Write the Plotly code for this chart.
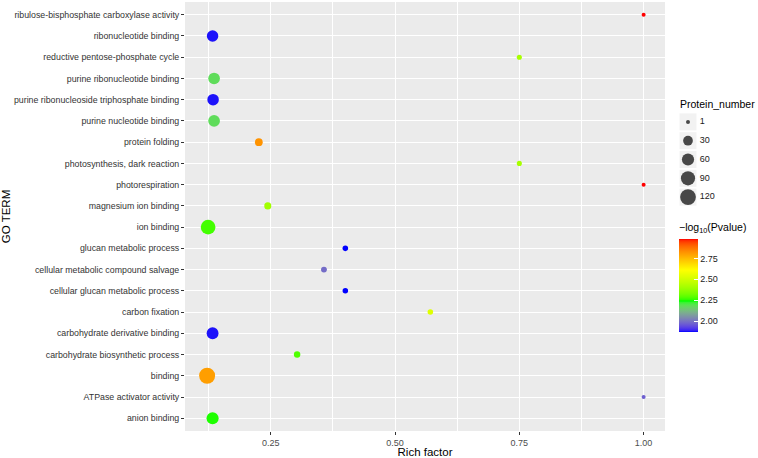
import numpy as np
import plotly.graph_objects as go

# ---------------- data (bottom -> top, ggplot alphabetical order) ----------------
terms = [
    "anion binding",
    "ATPase activator activity",
    "binding",
    "carbohydrate biosynthetic process",
    "carbohydrate derivative binding",
    "carbon fixation",
    "cellular glucan metabolic process",
    "cellular metabolic compound salvage",
    "glucan metabolic process",
    "ion binding",
    "magnesium ion binding",
    "photorespiration",
    "photosynthesis, dark reaction",
    "protein folding",
    "purine nucleotide binding",
    "purine ribonucleoside triphosphate binding",
    "purine ribonucleotide binding",
    "reductive pentose-phosphate cycle",
    "ribonucleotide binding",
    "ribulose-bisphosphate carboxylase activity",
]
rich_factor = [0.133, 1.0, 0.122, 0.303, 0.133, 0.571, 0.40, 0.357, 0.40, 0.124,
               0.244, 1.0, 0.75, 0.226, 0.136, 0.134, 0.136, 0.75, 0.133, 1.0]
protein_number = [58, 2, 125, 7, 55, 4, 4, 5, 4, 100,
                  10, 2, 3, 14, 53, 50, 52, 3, 50, 2]
neg_log10_p = [2.25, 1.97, 2.80, 2.28, 1.88, 2.53, 1.87, 1.99, 1.87, 2.27,
               2.40, 2.98, 2.41, 2.82, 2.18, 1.88, 2.18, 2.41, 1.88, 2.98]

size_breaks = [1, 30, 60, 90, 120]
x_ticks = [0.25, 0.50, 0.75, 1.00]
color_ticks = [2.00, 2.25, 2.50, 2.75]
gradient_colours = ["#0000FF", "#00FF00", "#FFFF00", "#FF0000"]

# ---------------- helpers: Lab-space colour ramp (like ggplot gradientn) ----------------
def _lin(c):
    c = c / 255.0
    return np.where(c <= 0.04045, c / 12.92, ((c + 0.055) / 1.055) ** 2.4)

def _delin(c):
    c = np.where(c <= 0.0031308, 12.92 * c, 1.055 * np.power(np.clip(c, 0, None), 1 / 2.4) - 0.055)
    return np.clip(np.round(c * 255), 0, 255).astype(int)

M = np.array([[0.4124564, 0.3575761, 0.1804375],
              [0.2126729, 0.7151522, 0.0721750],
              [0.0193339, 0.1191920, 0.9503041]])
Minv = np.linalg.inv(M)
WHITE = np.array([0.95047, 1.0, 1.08883])

def hex2lab(h):
    rgb = np.array([int(h[i:i + 2], 16) for i in (1, 3, 5)], dtype=float)
    xyz = M @ _lin(rgb) / WHITE
    f = np.where(xyz > 216 / 24389, np.cbrt(xyz), (24389 / 27 * xyz + 16) / 116)
    return np.array([116 * f[1] - 16, 500 * (f[0] - f[1]), 200 * (f[1] - f[2])])

def lab2rgb(lab):
    L, a, b = lab
    fy = (L + 16) / 116
    fx = fy + a / 500
    fz = fy - b / 200
    f = np.array([fx, fy, fz])
    xyz = np.where(f ** 3 > 216 / 24389, f ** 3, (116 * f - 16) / (24389 / 27)) * WHITE
    return _delin(Minv @ xyz)

labs = [hex2lab(c) for c in gradient_colours]
stops = []
n = 60
for i in range(n + 1):
    t = i / n
    seg = min(int(t * (len(labs) - 1)), len(labs) - 2)
    u = t * (len(labs) - 1) - seg
    lab = labs[seg] * (1 - u) + labs[seg + 1] * u
    r, g, b = lab2rgb(lab)
    stops.append([t, f"rgb({r},{g},{b})"])

vmin, vmax = min(protein_number), max(protein_number)

def size_scale(v):
    t = np.clip((np.asarray(v, dtype=float) - vmin) / (vmax - vmin), 0, 1)
    return 4.0 + 12.0 * np.sqrt(t)

# ---------------- layout geometry (pixels) ----------------
W, H = 758, 458
ML, MR, MT, MB = 185, 0, 2, 27
PW, PH = W - ML - MR, H - MT - MB
def px_x(p):  # pixel -> paper x
    return (p - ML) / PW
def px_y(p):  # pixel -> paper y
    return (H - MB - p) / PH

# ---------------- figure ----------------
fig = go.Figure()

fig.add_trace(go.Scatter(
    x=rich_factor, y=terms, mode="markers", showlegend=False, hoverinfo="x+y",
    marker=dict(
        size=size_scale(protein_number), sizemode="diameter",
        color=neg_log10_p, colorscale=stops, line=dict(width=0), opacity=1,
        colorbar=dict(
            title=dict(text="\u2212log<sub>10</sub>(Pvalue)", side="top",
                       font=dict(size=10.5, color="#000000")),
            tickvals=color_ticks, ticktext=[f"{v:.2f}" for v in color_ticks],
            ticks="inside", ticklen=4, tickcolor="white", tickwidth=1,
            tickfont=dict(size=9, color="#1A1A1A"),
            thickness=19, thicknessmode="pixels",
            len=112, lenmode="pixels",
            x=px_x(679), xanchor="left", y=px_y(276), yanchor="middle",
            xpad=0, ypad=0, outlinewidth=0,
        ),
    ),
))

# size legend drawn as a small subplot
size_labels = [str(s) for s in size_breaks]
fig.add_trace(go.Scatter(
    x=[0] * len(size_breaks), y=size_labels, xaxis="x2", yaxis="y2",
    mode="markers+text", text=size_labels, textposition="middle right",
    textfont=dict(size=9, color="#1A1A1A"), cliponaxis=False,
    marker=dict(symbol="square", size=17, color="#F2F2F2", line=dict(width=0)),
    showlegend=False, hoverinfo="skip",
))
fig.add_trace(go.Scatter(
    x=[0] * len(size_breaks), y=size_labels, xaxis="x2", yaxis="y2",
    mode="markers", cliponaxis=False,
    marker=dict(size=size_scale(size_breaks), sizemode="diameter", color="black", line=dict(width=0)),
    showlegend=False, hoverinfo="skip",
))

font_family = "Liberation Sans, Arial, sans-serif"
fig.update_layout(
    width=W, height=H,
    margin=dict(l=ML, r=MR, t=MT, b=MB),
    paper_bgcolor="white", plot_bgcolor="#EBEBEB",
    font=dict(family=font_family, size=9, color="#4D4D4D"),
    showlegend=False,
    xaxis=dict(
        domain=[0, px_x(665)],
        range=[0.0775, 1.043], tickvals=x_ticks, ticktext=[f"{v:.2f}" for v in x_ticks],
        showgrid=True, gridcolor="white", gridwidth=1.1, zeroline=False,
        ticks="outside", ticklen=3, tickcolor="#333333",
        tickfont=dict(size=9, color="#4D4D4D"),
        minor=dict(dtick=0.125, tick0=0.125, showgrid=True, gridcolor="white", gridwidth=0.5),
        title=dict(text="Rich factor", font=dict(size=11.5, color="#000000"), standoff=3),
        showline=False, automargin=False,
    ),
    yaxis=dict(
        type="category", categoryorder="array", categoryarray=terms,
        range=[-0.6, len(terms) - 0.4],
        showgrid=True, gridcolor="white", gridwidth=1.1, zeroline=False,
        ticks="outside", ticklen=3, tickcolor="#333333",
        tickfont=dict(size=8.8, color="#333333"),
        title=dict(text="GO TERM", font=dict(size=11.5, color="#000000"), standoff=2),
        showline=False, automargin=False,
    ),
    xaxis2=dict(
        domain=[px_x(679), px_x(697)], range=[-1, 1], anchor="y2",
        visible=False, fixedrange=True,
    ),
    yaxis2=dict(
        domain=[px_y(206.5), px_y(112.5)], anchor="x2",
        type="category", categoryorder="array", categoryarray=size_labels[::-1],
        range=[-0.5, len(size_breaks) - 0.5],
        visible=False, fixedrange=True,
    ),
    annotations=[dict(
        text="Protein_number", xref="paper", yref="paper",
        x=px_x(678), y=px_y(96), xanchor="left", yanchor="top", showarrow=False,
        font=dict(size=10.5, color="#000000"),
    )],
)
# keep the legend subplot's background white (plot_bgcolor applies to all subplots)
fig.add_shape(type="rect", xref="x2 domain", yref="y2 domain", x0=-0.5, x1=5, y0=-0.05, y1=1.05,
              fillcolor="white", line=dict(width=0), layer="below")

fig.write_html("out.html", config={"displayModeBar": False},
               post_script="document.body.style.margin='0';")
